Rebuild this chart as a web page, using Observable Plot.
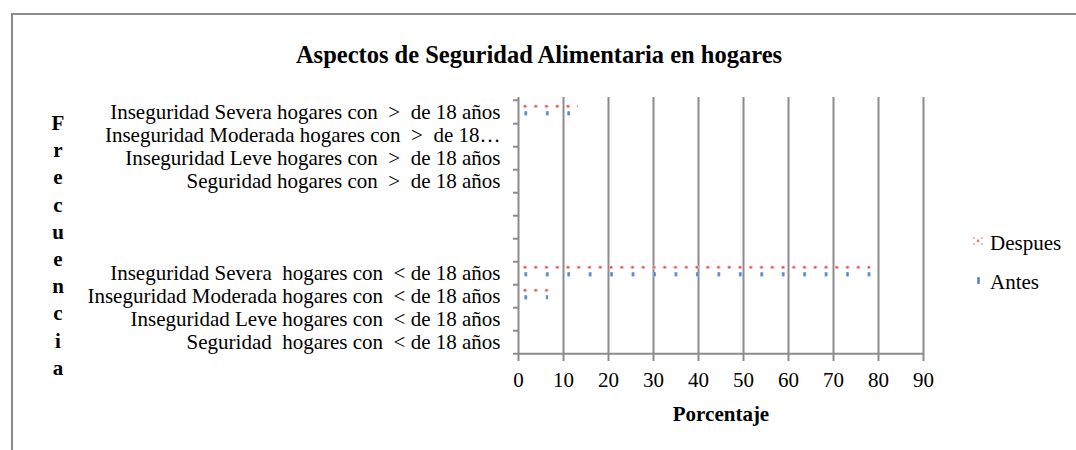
<!DOCTYPE html>
<html><head><meta charset="utf-8">
<script src="https://cdn.jsdelivr.net/npm/d3@7"></script>
<script src="https://cdn.jsdelivr.net/npm/@observablehq/plot@0.6"></script>
<style>
body{margin:0;background:#fff;}
#wrap{position:relative;width:1076px;height:450px;overflow:hidden;font-family:"Liberation Serif","Times New Roman",serif;color:#000;}
#box{position:absolute;left:11px;top:13px;width:1200px;height:600px;border-left:2px solid #8c8c8c;border-top:2px solid #8c8c8c;}
#chart{position:absolute;left:0;top:0;}
#chart svg text{white-space:pre;}
.abs{position:absolute;white-space:pre;}
.c{transform:translate(-50%,-50%);}
.l{transform:translate(0,-50%);}
</style></head>
<body><div id="wrap"><div id="box"></div><div id="chart"></div></div>
<script>
const titleText = "Aspectos de Seguridad Alimentaria en hogares";
const xTitle = "Porcentaje";
const yTitle = "Frecuencia";
const seriesNames = ["Despues", "Antes"];
const categories = [
  "Inseguridad Severa hogares con  >  de 18 años",
  "Inseguridad Moderada hogares con  >  de 18…",
  "Inseguridad Leve hogares con  >  de 18 años",
  "Seguridad hogares con  >  de 18 años",
  " ", "  ", "   ",
  "Inseguridad Severa  hogares con  < de 18 años",
  "Inseguridad Moderada hogares con  < de 18 años",
  "Inseguridad Leve hogares con  < de 18 años",
  "Seguridad  hogares con  < de 18 años"
];
const despues = [13.3, 0.5, 0, 0, null, null, null, 78.3, 7.7, 0, 0];
const antes   = [14.0, 0,   0, 0, null, null, null, 78.6, 6.7, 0, 0];
const xTicks = [0, 10, 20, 30, 40, 50, 60, 70, 80, 90];

const despRows = categories.map((c, i) => ({cat: c, value: despues[i]})).filter(d => d.value != null);
const antesRows = categories.map((c, i) => ({cat: c, value: antes[i]})).filter(d => d.value != null);

const W = 1076, H = 450, mL = 518, mR = 153, mT = 97, mB = 95;
const bw = (H - mT - mB) / categories.length;
const gray = "#8c8c8c";

const chart = Plot.plot({
  width: W, height: H, marginLeft: mL, marginRight: mR, marginTop: mT, marginBottom: mB,
  style: {fontFamily: "Liberation Serif, Times New Roman, serif", fontSize: "21px", color: "#000", background: "transparent", overflow: "visible"},
  x: {domain: [0, 90]},
  y: {type: "band", domain: categories, padding: 0},
  marks: [
    Plot.gridX(xTicks.filter(v => v > 0), {stroke: gray, strokeWidth: 2, strokeOpacity: 1}),
    Plot.barX(despRows, {y: "cat", x: "value", fill: "url(#pat-despues)", insetTop: 4.3, insetBottom: 12.4}),
    Plot.barX(antesRows, {y: "cat", x: "value", fill: "url(#pat-antes)", insetTop: 11.2, insetBottom: 4}),
    Plot.ruleX([0], {stroke: gray, strokeWidth: 2}),
    Plot.ruleY([categories[categories.length - 1]], {dy: bw / 2, stroke: gray, strokeWidth: 2}),
    Plot.axisY({tickSize: 0, tickPadding: 18, label: null}),
    Plot.axisY({tickSize: 5, tickFormat: () => "", dy: bw / 2, stroke: gray, strokeWidth: 2, label: null}),
    Plot.axisY([categories[0]], {tickSize: 5, tickFormat: () => "", dy: -bw / 2, stroke: gray, strokeWidth: 2, label: null}),
    Plot.axisX(xTicks, {tickSize: 6, tickPadding: 11, stroke: gray, strokeWidth: 2, label: null})
  ]
});
document.getElementById("chart").appendChild(chart);

// pattern fills (paint servers) for the two series
const yS = chart.scale("y");
const y0 = Math.min(...yS.range);
const band = yS.bandwidth;
const defs = d3.select(chart).insert("defs", ":first-child");
const pd = defs.append("pattern").attr("id", "pat-despues").attr("patternUnits", "userSpaceOnUse")
  .attr("x", 522).attr("y", y0).attr("width", 10.75).attr("height", band);
pd.append("rect").attr("x", 0).attr("y", 4.6).attr("width", 2.8).attr("height", 1.3).attr("fill", "#f2aaaa");
pd.append("rect").attr("x", 5.4).attr("y", 4.6).attr("width", 2.8).attr("height", 1.3).attr("fill", "#f2aaaa");
pd.append("circle").attr("cx", 3).attr("cy", 9.2).attr("r", 2.0).attr("fill", "#f7caca");
pd.append("circle").attr("cx", 3).attr("cy", 9.2).attr("r", 1.3).attr("fill", "#de5f5f");
const pa = defs.append("pattern").attr("id", "pat-antes").attr("patternUnits", "userSpaceOnUse")
  .attr("x", 524.3).attr("y", y0).attr("width", 21.45).attr("height", band);
pa.append("rect").attr("x", 0).attr("y", 11.3).attr("width", 3.0).attr("height", 7.2).attr("fill", "#a9c4e8");
pa.append("rect").attr("x", 0.5).attr("y", 11.6).attr("width", 2.0).attr("height", 6.6).attr("fill", "#4a7fc8");

// titles and legend
const wrap = document.getElementById("wrap");
function addDiv(text, cls, style) {
  const d = document.createElement("div");
  d.className = "abs " + cls;
  d.textContent = text;
  Object.assign(d.style, style);
  wrap.appendChild(d);
  return d;
}
addDiv(titleText, "c", {left: "539px", top: "55px", fontWeight: "bold", fontSize: "24.5px"});
addDiv(xTitle, "c", {left: "721px", top: "414px", fontWeight: "bold", fontSize: "21px"});
addDiv(yTitle, "", {left: "47px", top: "111px", width: "22px", fontWeight: "bold", fontSize: "21px", lineHeight: "22px",
  writingMode: "vertical-lr", textOrientation: "upright", letterSpacing: "3.2px"});

// legend
const legendY = [243, 282];
seriesNames.forEach((name, i) => {
  addDiv(name, "l", {left: "990px", top: legendY[i] + "px", fontSize: "21px"});
});
const sw = document.createElementNS("http://www.w3.org/2000/svg", "svg");
sw.setAttribute("width", 20); sw.setAttribute("height", 60);
sw.style.position = "absolute"; sw.style.left = "970px"; sw.style.top = "232px";
const s = d3.select(sw);
[[4, 6], [12, 6], [8, 9], [4, 12], [12, 12]].forEach(([cx, cy], k) => {
  s.append("circle").attr("cx", cx).attr("cy", cy).attr("r", k === 2 ? 1.4 : 1.1).attr("fill", k === 2 ? "#e47c7c" : "#f0a8a8");
});
s.append("rect").attr("x", 7).attr("y", 45).attr("width", 3).attr("height", 7).attr("fill", "#a9c4e8");
s.append("rect").attr("x", 7.5).attr("y", 45.3).attr("width", 2).attr("height", 6.4).attr("fill", "#4a7fc8");
wrap.appendChild(sw);
</script>
</body></html>
